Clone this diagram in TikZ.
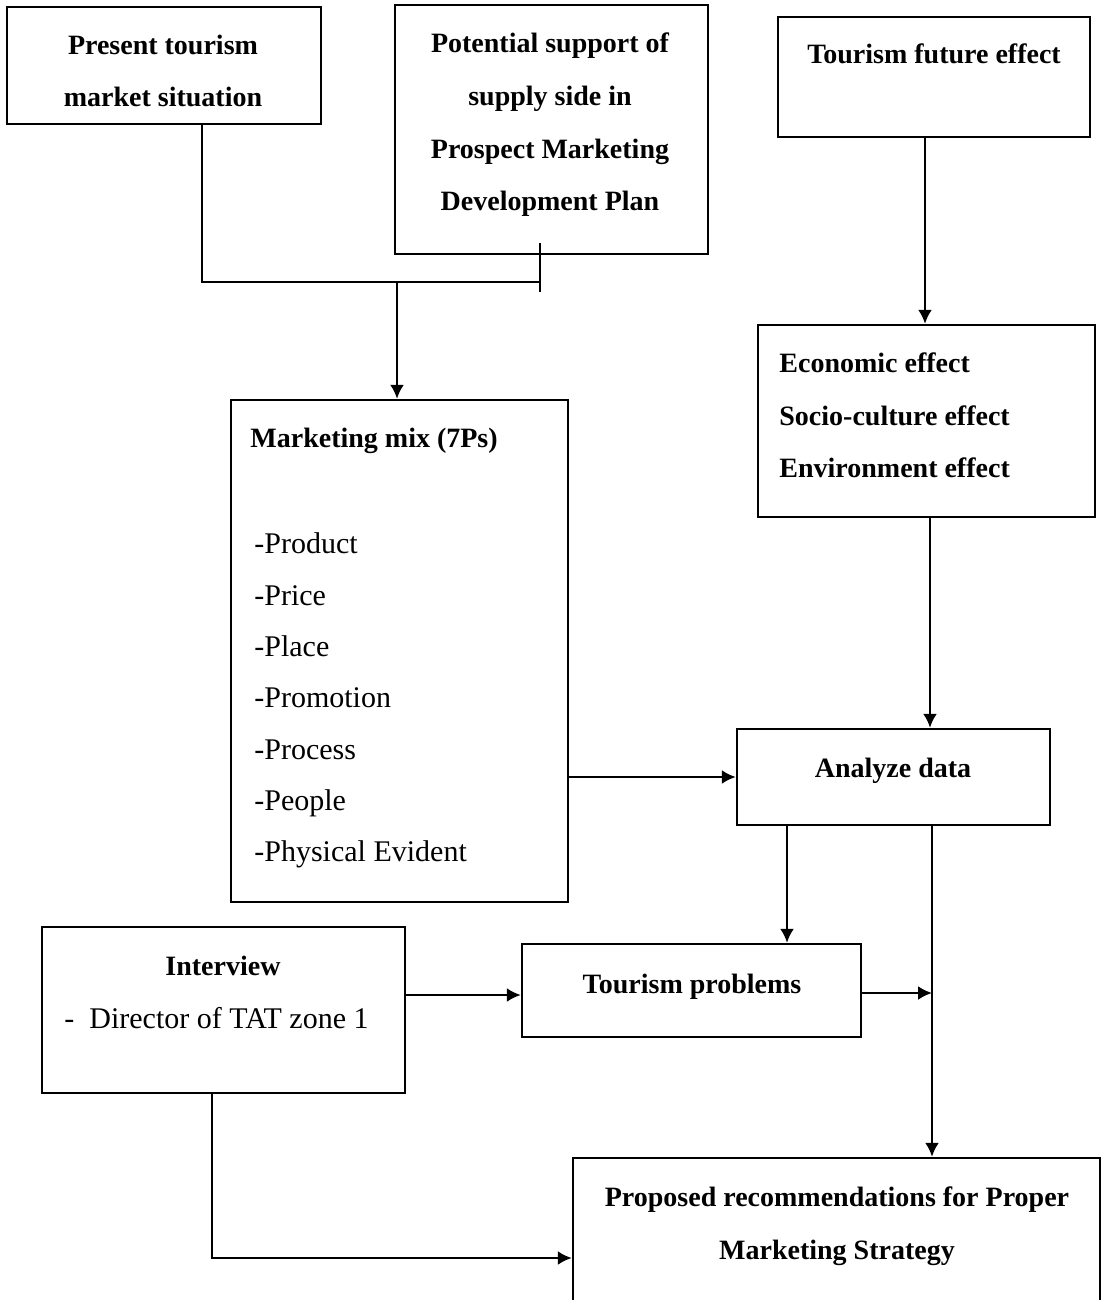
\documentclass[tikz,border=0pt]{standalone}
\usepackage{fontspec}
\setmainfont{Liberation Serif}
\usetikzlibrary{arrows.meta}
\tikzset{
    box/.style={draw,line width=1.2pt,inner sep=0pt},
    head/.style={anchor=base,inner sep=0pt,font=\fontsize{14}{16}\bfseries},
    headl/.style={anchor=base west,inner sep=0pt,font=\fontsize{14}{16}\bfseries},
    item/.style={anchor=base west,inner sep=0pt,font=\fontsize{15}{17}\selectfont},
    pre/.style={-{Latex[length=7pt,width=7pt]},line width=1.2pt},
    bi/.style={-,line width=1.2pt}
}

\begin{document}
\begin{tikzpicture}[x=0.5pt,y=-0.5pt]

    \clip (0,0) rectangle (1107,1300);

    % boxes
    \node[box,minimum width=157pt,minimum height=58.5pt]  (present)   at (164,65.5)   {};
    \node[box,minimum width=156.5pt,minimum height=124.5pt] (support) at (551.5,129.5) {};
    \node[box,minimum width=156pt,minimum height=60pt]    (future)    at (934,77)     {};
    \node[box,minimum width=168.5pt,minimum height=251pt] (mix)       at (399.5,651)  {};
    \node[box,minimum width=168.5pt,minimum height=96pt]  (effects)   at (926.5,421)  {};
    \node[box,minimum width=156.5pt,minimum height=48pt]  (analyze)   at (893.5,777)  {};
    \node[box,minimum width=181.5pt,minimum height=83pt]  (interview) at (223.5,1010) {};
    \node[box,minimum width=169.5pt,minimum height=46.5pt] (problems) at (691.5,990.5) {};
    \node[box,minimum width=263.5pt,minimum height=90pt]  (proposed)  at (836.5,1248) {};

    % texts
    \node[head] (present 1) at (163,55)  {Present tourism};
    \node[head] (present 2) at (163,107) {market situation};

    \node[head] (support 1) at (550,53)  {Potential support of};
    \node[head] (support 2) at (550,106) {supply side in};
    \node[head] (support 3) at (550,159) {Prospect Marketing};
    \node[head] (support 4) at (550,211) {Development Plan};

    \node[head] (future 1) at (934,64) {Tourism future effect};

    \node[headl] (mix 0) at (250,447) {Marketing mix (7Ps)};
    \node[item]  (mix 1) at (254,553) {-Product};
    \node[item]  (mix 2) at (254,605) {-Price};
    \node[item]  (mix 3) at (254,656) {-Place};
    \node[item]  (mix 4) at (254,707) {-Promotion};
    \node[item]  (mix 5) at (254,759) {-Process};
    \node[item]  (mix 6) at (254,810) {-People};
    \node[item]  (mix 7) at (254,861) {-Physical Evident};

    \node[headl] (effects 1) at (779,372) {Economic effect};
    \node[headl] (effects 2) at (779,425) {Socio-culture effect};
    \node[headl] (effects 3) at (779,477) {Environment effect};

    \node[head] (analyze 1) at (893,777) {Analyze data};

    \node[head] (interview 1) at (223,975)  {Interview};
    \node[item] (interview 2) at (64,1028)  {-\enspace Director of TAT zone 1};

    \node[head] (problems 1) at (692,993) {Tourism problems};

    \node[head] (proposed 1) at (837,1206) {Proposed recommendations for Proper};
    \node[head] (proposed 2) at (837,1259) {Marketing Strategy};

    % connectors
    \coordinate (jl)   at (202,282);
    \coordinate (jr)   at (540,282);
    \coordinate (join) at (397,282);
    \draw[bi]  (present.south -| jl) -- (jl) -- (jr);
    \draw[bi]  (jr |- 0,243) -- (jr |- 0,292);
    \draw[pre] (join) -- (join |- mix.north);

    \coordinate (fx) at (925,0);
    \draw[pre] (future.south -| fx) -- (effects.north -| fx);
    \coordinate (ex) at (930,0);
    \draw[pre] (effects.south -| ex) -- (analyze.north -| ex);

    \draw[pre] (mix.east |- analyze.west) -- (analyze.west);

    \coordinate (ax) at (787,0);
    \draw[pre] (analyze.south -| ax) -- (problems.north -| ax);
    \coordinate (bx) at (932,0);
    \draw[pre] (analyze.south -| bx) -- (proposed.north -| bx);
    \coordinate (py) at (0,993);
    \draw[pre] (problems.east |- py) -- (bx |- py);

    \coordinate (iy) at (0,995);
    \draw[pre] (interview.east |- iy) -- (problems.west |- iy);
    \coordinate (ix) at (212,1258);
    \draw[pre] (interview.south -| ix) -- (ix) -- (proposed.west |- ix);

\end{tikzpicture}
\end{document}
